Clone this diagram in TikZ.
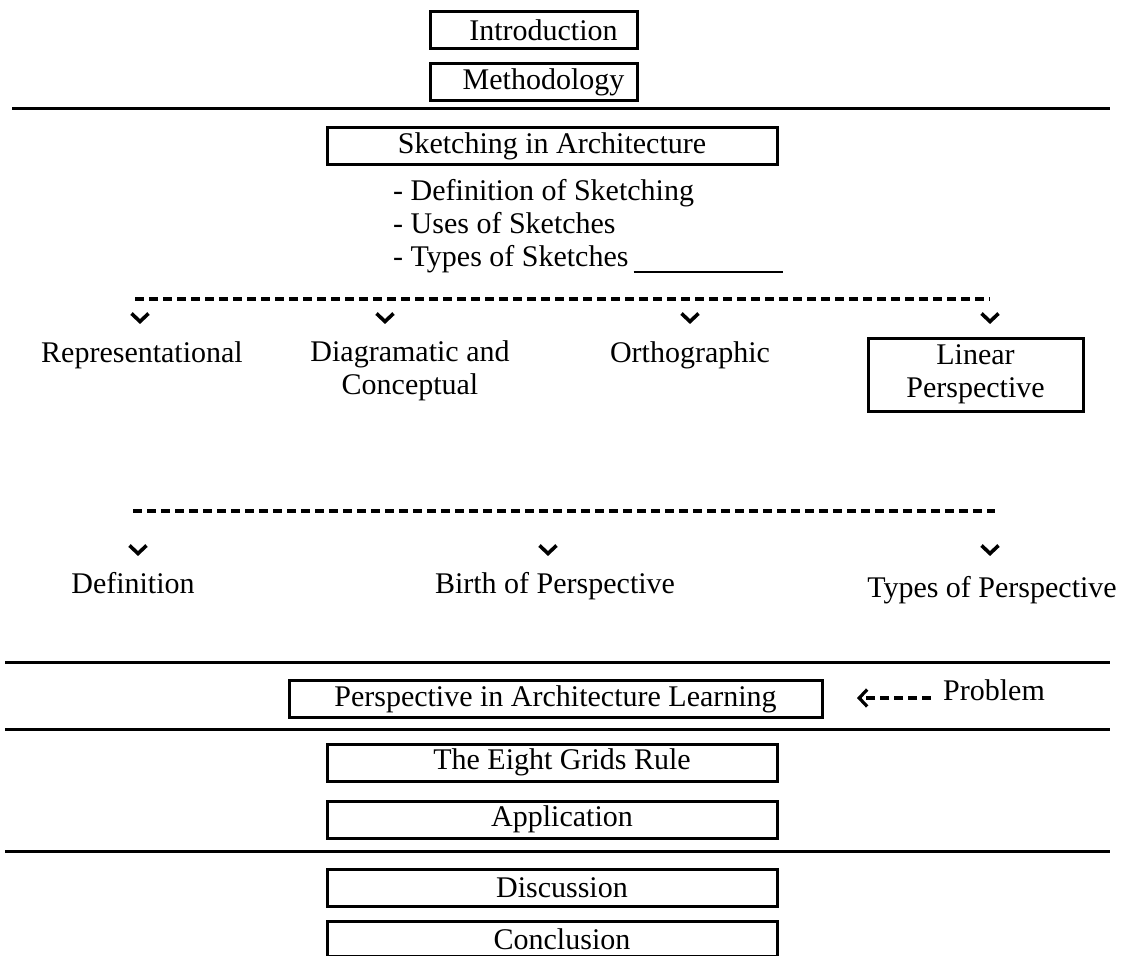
\documentclass[tikz,border=0pt]{standalone}
\usepackage{fontspec}
\setmainfont{Liberation Serif}
\usetikzlibrary{positioning,arrows.meta}

\begin{document}
\begin{tikzpicture}[
        x=1pt, y=-1pt,
        font=\fontsize{30}{33}\selectfont,
        node distance=12pt,
        box/.style={rectangle, draw, line width=3pt, inner sep=0pt, minimum height=37pt},
        smallbox/.style={box, minimum width=207pt},
        widebox/.style={box, minimum width=450pt},
        rshift/.style={execute at begin node={\hspace*{20pt}}},
        entry/.style={inner sep=0pt, align=center},
        hline/.style={line width=3pt},
        dashrule/.style={line width=3.6pt, dash pattern=on 9pt off 5pt},
        backarrow/.style={-{Straight Barb[length=8pt,width=17pt]}, line width=3.2pt, dash pattern=on 9pt off 5pt},
        chev/.pic={\draw[line width=3.6pt] (-8.5,-4.5) -- (0,3.5) -- (8.5,-4.5);}
    ]
    \useasboundingbox[fill=white] (0,0) rectangle (1125,956);

    % Nodes
    \node[smallbox, rshift] (intro) at (533.5,30) {Introduction};
    \node[smallbox, rshift, below=of intro] (method) {Methodology};

    \node[widebox] (sketch) at (552,146) {Sketching in Architecture};
    \node[entry, anchor=base west] (defsk) at (393,200) {- Definition of Sketching};
    \node[entry, anchor=base west] (uses) at (393,233) {- Uses of Sketches};
    \node[entry, anchor=base west] (types) at (393,266) {- Types of Sketches};
    \coordinate (typesend) at (783,272);

    \node[entry, anchor=base] (repr) at (142,362) {Representational};
    \node[entry] (diag) at (410,371) {Diagramatic and\\Conceptual};
    \node[entry, anchor=base] (ortho) at (690,362) {Orthographic};
    \node[box, align=center, minimum width=215pt, minimum height=73pt] (linear) at (975.5,374.5) {Linear\\Perspective};

    \node[entry, anchor=base] (defn) at (133,593) {Definition};
    \node[entry, anchor=base] (birth) at (555,593) {Birth of Perspective};
    \node[entry, anchor=base] (typesp) at (992,597) {Types of Perspective};

    \node[box, minimum width=533pt] (pal) at (555.5,699) {Perspective in Architecture Learning};
    \node[entry, anchor=base west] (problem) at (943,700) {Problem};
    \coordinate (paltip) at (857,698);

    \node[widebox, rshift] (eight) at (552,762.5) {The Eight Grids Rule};
    \node[widebox, rshift, below=17pt of eight] (app) {Application};
    \node[widebox, rshift] (disc) at (552,888) {Discussion};
    \node[widebox, rshift, minimum height=35pt, below=12pt of disc] (concl) {Conclusion};

    % Rules
    \draw[hline] (12,108) -- (1110,108);
    \draw[dashrule] (135,299) -- (990,299);
    \draw[dashrule] (133,511) -- (995,511);
    \draw[hline] (5,662) -- (1110,662);
    \draw[hline] (5,729) -- (1110,729);
    \draw[hline] (5,851) -- (1110,851);

    % Markers
    \foreach \cx in {140,385,690,990} \pic at (\cx,318) {chev};
    \foreach \cx in {138,548,990} \pic at (\cx,550) {chev};

    % Arrows
    \draw[line width=2.6pt] ([xshift=5pt]types.east |- typesend) -- (typesend);
    \draw[backarrow] ([xshift=-12pt]problem.west |- paltip) -- (paltip);

\end{tikzpicture}
\end{document}
